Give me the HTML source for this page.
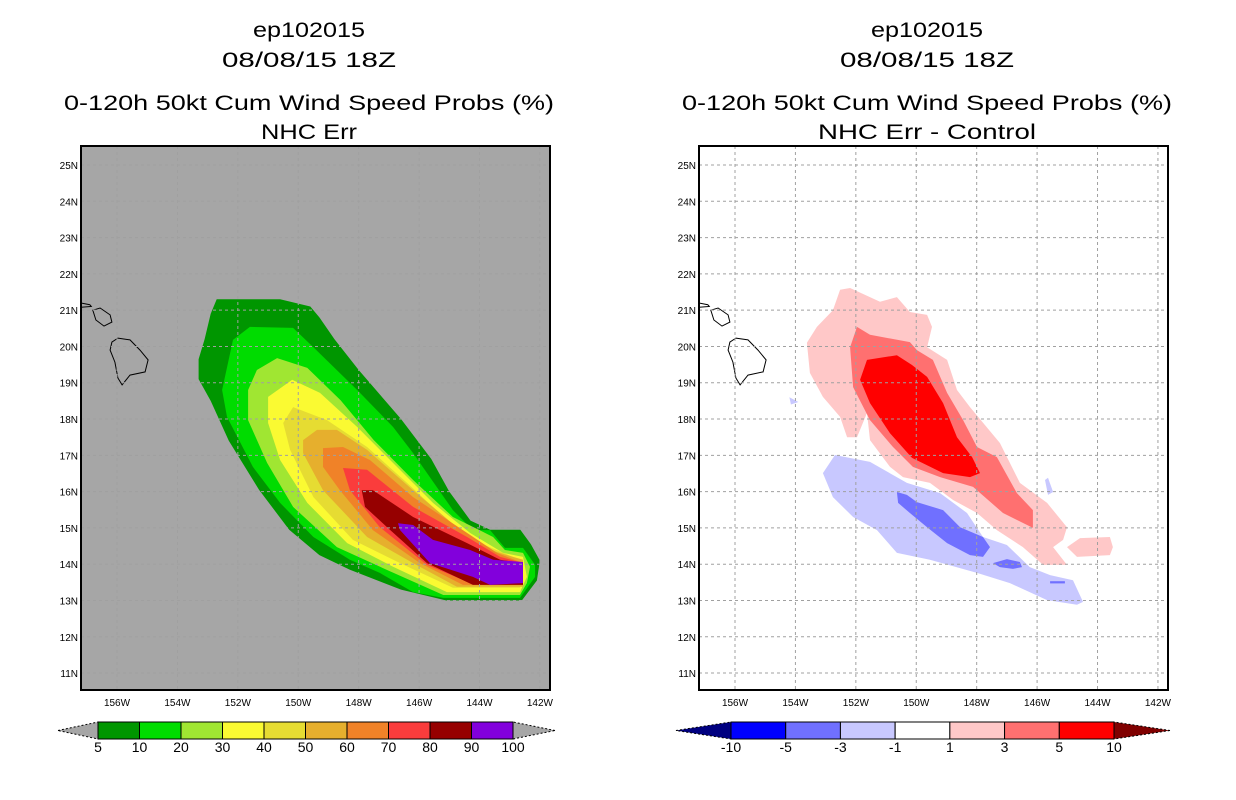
<!DOCTYPE html>
<html><head><meta charset="utf-8"><style>
html,body{margin:0;padding:0;background:#fff;}
svg{display:block;}
text{font-family:"Liberation Sans",sans-serif;}
</style></head><body>
<svg id="chart" width="1236" height="800" viewBox="0 0 1236 800" xmlns="http://www.w3.org/2000/svg">
<g id="titles">
<text x="309" y="37" font-size="21" text-anchor="middle" textLength="112" lengthAdjust="spacingAndGlyphs">ep102015</text>
<text x="309" y="67" font-size="21" text-anchor="middle" textLength="174" lengthAdjust="spacingAndGlyphs">08/08/15 18Z</text>
<text x="309" y="110" font-size="21" text-anchor="middle" textLength="490" lengthAdjust="spacingAndGlyphs">0-120h 50kt Cum Wind Speed Probs (%)</text>
<text x="309" y="139" font-size="21" text-anchor="middle" textLength="96" lengthAdjust="spacingAndGlyphs">NHC Err</text>
<text x="927" y="37" font-size="21" text-anchor="middle" textLength="112" lengthAdjust="spacingAndGlyphs">ep102015</text>
<text x="927" y="67" font-size="21" text-anchor="middle" textLength="174" lengthAdjust="spacingAndGlyphs">08/08/15 18Z</text>
<text x="927" y="110" font-size="21" text-anchor="middle" textLength="490" lengthAdjust="spacingAndGlyphs">0-120h 50kt Cum Wind Speed Probs (%)</text>
<text x="927" y="139" font-size="21" text-anchor="middle" textLength="218" lengthAdjust="spacingAndGlyphs">NHC Err - Control</text>
</g>
<defs>
<clipPath id="clipL"><rect x="81" y="146" width="469" height="544"/></clipPath>
<clipPath id="clipR"><rect x="699" y="146" width="469" height="544"/></clipPath>
</defs>
<g id="panelL"></g>
<g id="panelR"></g>
<g id="cbL"></g>
<g id="cbR"></g>
</svg>
<script>
// ---- data ----
const lonTicks = [156,154,152,150,148,146,144,142];
const latTicks = [25,24,23,22,21,20,19,18,17,16,15,14,13,12,11];
const probLevels = ["5","10","20","30","40","50","60","70","80","90","100"];
const probColors = ["#009600","#00dc00","#a0e632","#fafa32","#e6dc32","#e6af2d","#f08228","#fa3c3c","#960000","#8200dc"];
const diffLevels = ["-10","-5","-3","-1","1","3","5","10"];
const diffColors = ["#000080","#0000ff","#7070ff","#c8c8ff","#ffffff","#ffc8c8","#ff7070","#ff0000","#800000"];
// contour polygons [lonW, latN]
const prob5 = [[152.7,21.3],[151.6,21.3],[150.6,21.3],[149.6,21.1],[149.3,20.8],[148.8,20.2],[148.0,19.35],[146.6,18.0],[145.6,16.9],[145.0,16.0],[144.3,15.2],[143.65,14.95],[142.65,14.95],[142.3,14.55],[142.0,14.1],[142.1,13.55],[142.6,13.0],[145.1,13.0],[146.6,13.3],[148.3,13.85],[149.3,14.25],[150.3,14.95],[151.3,16.05],[152.3,17.4],[152.9,18.5],[153.3,19.1],[153.3,19.65],[153.1,20.2],[152.9,20.9]];
const prob10 = [[151.6,20.54],[150.17,20.51],[149.5,19.98],[148.05,18.8],[146.86,17.78],[146.2,17.06],[144.88,15.49],[144.22,14.94],[143.65,14.94],[143.16,14.45],[142.56,14.45],[142.16,13.98],[142.16,13.65],[142.66,13.07],[145.2,13.07],[146.2,13.23],[147.3,13.76],[148.29,14.12],[149.5,14.75],[150.6,15.69],[151.5,16.68],[152.36,18.06],[152.52,18.8],[152.16,20.18]];
const prob20 = [[150.7,19.68],[149.7,19.41],[148.6,18.52],[147.5,17.42],[146.2,16.32],[144.88,15.3],[144.0,14.94],[143.55,14.75],[143.16,14.39],[142.56,14.31],[142.33,13.93],[142.43,13.48],[142.66,13.15],[145.2,13.15],[147.06,13.84],[148.72,14.47],[150.17,15.58],[151.03,16.79],[151.66,17.97],[151.66,18.8],[151.37,19.35]];
const prob30 = [[150.2,19.08],[149.28,18.72],[148.05,17.78],[146.73,16.68],[145.54,15.69],[144.31,14.86],[143.22,14.31],[142.56,14.2],[142.43,13.65],[142.66,13.23],[145.08,13.23],[146.86,13.93],[148.38,14.58],[149.7,15.69],[150.6,16.87],[151.0,17.89],[151.0,18.61]];
const prob40 = [[150.17,18.33],[149.05,17.97],[147.72,17.23],[146.4,16.24],[145.08,15.22],[143.98,14.58],[142.9,14.2],[142.56,13.93],[142.66,13.35],[144.88,13.35],[146.63,14.03],[148.19,14.67],[149.5,15.85],[150.27,17.15],[150.5,17.89]];
const prob50 = [[149.38,17.7],[148.72,17.7],[147.72,17.15],[146.2,16.04],[144.75,15.02],[143.65,14.39],[142.56,14.12],[142.56,13.38],[144.75,13.38],[146.2,14.03],[147.72,14.75],[149.18,16.04],[149.84,17.06],[149.84,17.42]];
const prob60 = [[149.18,17.2],[148.52,17.23],[147.63,16.87],[146.2,15.85],[144.55,14.94],[143.42,14.31],[142.56,14.03],[142.56,13.43],[144.55,13.43],[145.97,14.03],[147.53,14.94],[148.62,16.04],[149.18,16.68]];
const prob70 = [[148.52,16.65],[147.72,16.6],[146.2,15.58],[144.41,14.75],[143.32,14.2],[142.56,14.03],[142.56,13.48],[144.31,13.48],[145.74,13.98],[147.3,15.02],[148.29,16.04]];
const prob80 = [[147.9,16.04],[147.53,16.04],[146.2,15.3],[144.41,14.58],[143.32,14.12],[142.56,14.03],[142.56,13.43],[144.22,13.43],[145.74,14.03],[147.06,15.02],[147.79,15.58]];
const prob90 = [[146.7,15.13],[146.2,15.08],[145.54,14.67],[144.31,14.39],[143.55,14.12],[142.56,14.06],[142.56,13.48],[143.65,13.43],[144.22,13.65],[145.64,14.03],[146.63,14.94]];
const diffPos1 = [[152.52,21.56],[152.19,21.61],[151.2,21.23],[150.64,21.36],[150.21,20.95],[149.64,20.87],[149.48,20.54],[149.64,19.98],[148.98,19.63],[148.65,18.8],[148.22,18.33],[147.23,17.34],[146.57,16.24],[145.67,15.69],[145.01,15.02],[145.14,14.67],[145.47,14.47],[145.01,13.98],[145.8,13.98],[146.47,14.47],[147.33,14.94],[147.99,15.41],[148.78,15.77],[149.55,16.24],[150.44,16.4],[150.87,16.68],[151.53,17.42],[151.63,18.17],[151.96,17.5],[152.29,17.5],[152.52,18.06],[153.09,18.61],[153.52,19.27],[153.62,20.1],[153.29,20.54],[152.76,21.0]];
const diffPos1b = [[145.01,14.47],[144.58,14.72],[143.59,14.75],[143.49,14.47],[143.59,14.25],[144.68,14.2]];
const diffPos3 = [[151.96,20.54],[151.53,20.32],[150.21,20.12],[149.98,19.9],[149.45,19.63],[148.98,18.72],[148.45,17.97],[147.99,17.23],[147.33,16.95],[146.67,15.96],[146.14,15.49],[146.14,15.0],[147.13,15.41],[148.12,16.13],[149.21,16.4],[150.11,16.68],[150.77,17.23],[151.53,17.97],[152.09,18.88],[152.19,19.98]];
const diffPos5 = [[151.63,19.63],[150.64,19.76],[150.14,19.49],[149.64,19.16],[149.11,18.44],[148.65,17.5],[148.15,16.95],[147.89,16.51],[148.22,16.4],[149.11,16.51],[150.14,16.93],[150.87,17.61],[151.53,18.44],[151.86,19.08]];
const diffNeg1 = [[152.69,17.01],[151.53,16.82],[150.31,16.24],[149.21,15.96],[148.32,15.41],[147.79,14.75],[147.0,14.53],[146.24,13.92],[145.57,13.7],[144.81,13.56],[144.48,12.96],[144.68,12.88],[145.67,13.01],[146.9,13.48],[147.99,13.76],[149.55,14.12],[150.64,14.31],[151.3,14.94],[152.09,15.3],[152.76,15.85],[153.09,16.51]];
const diffNeg1b = [[145.74,16.32],[145.64,16.38],[145.47,15.99],[145.64,15.91]];
const diffNeg1c = [[154.2,18.6],[153.9,18.47],[154.15,18.4]];
const diffNeg3 = [[150.64,15.99],[150.31,15.91],[149.98,15.71],[149.11,15.49],[148.55,15.02],[147.79,14.75],[147.56,14.47],[147.79,14.2],[148.22,14.25],[148.98,14.58],[149.64,15.02],[150.21,15.41],[150.6,15.69]];
const diffNeg3b = [[147.46,14.03],[147.0,14.14],[146.57,14.06],[146.5,13.92],[146.8,13.87],[147.23,13.92]];
const diffNeg3c = [[145.57,13.53],[145.08,13.53],[145.08,13.47],[145.57,13.47]];
const bigIsland = [[155.97,20.23],[155.57,20.18],[155.24,19.9],[154.97,19.63],[155.07,19.3],[155.57,19.21],[155.83,18.94],[155.97,19.13],[156.07,19.57],[156.23,19.9],[156.17,20.12]];
const maui = [[156.8,21.0],[156.56,21.06],[156.23,20.87],[156.17,20.67],[156.43,20.56],[156.7,20.73]];
const molokai = [[157.2,21.2],[156.9,21.15],[156.85,21.1],[157.2,21.08]];

const NS="http://www.w3.org/2000/svg";
function mk(tag,attrs,parent){const e=document.createElementNS(NS,tag);for(const k in attrs)e.setAttribute(k,attrs[k]);parent.appendChild(e);return e;}
function xScale(x0){return lon=>x0+36+(156-lon)*30.21;}
const yScale = lat=>165+(25-lat)*36.29;
function pts(poly,xs){return poly.map(p=>xs(p[0]).toFixed(1)+","+yScale(p[1]).toFixed(1)).join(" ");}

function drawPanel(g,x0,bg,clipId,layers){
  const xs=xScale(x0);
  const bgR=mk('rect',{x:x0,y:146,width:469,height:544,fill:bg},g);
  
  
  const cg=mk('g',{'clip-path':'url(#'+clipId+')'},g);
  
  
  layers.forEach(l=>{
    const p=mk('polygon',{points:pts(l.poly,xs),fill:l.color},cg);
    
    
  });
  const gg=mk('g',{stroke:'#a0a0a0','stroke-width':1,'stroke-dasharray':'3,3'},g);
  
  
  lonTicks.forEach(l=>{mk('line',{x1:xs(l),x2:xs(l),y1:146,y2:690},gg);});
  latTicks.forEach(l=>{mk('line',{x1:x0,x2:x0+469,y1:yScale(l),y2:yScale(l)},gg);});
  [bigIsland,maui,molokai].forEach(c=>{
    const p=mk('polygon',{points:pts(c,xs),fill:'none',stroke:'#000','stroke-width':1},cg);
    
    
  });
  const fr=mk('rect',{x:x0,y:146,width:469,height:544,fill:'none',stroke:'#000','stroke-width':2},g);
  
  
  lonTicks.forEach(l=>{
    const t=mk('text',{x:xs(l),y:706,'font-size':10,'text-anchor':'middle'},g);
    t.textContent=l+'W';
    
    
  });
  latTicks.forEach(l=>{
    const t=mk('text',{x:x0-3,y:yScale(l)+4,'font-size':10,'text-anchor':'end'},g);
    t.textContent=l+'N';
    
    
  });
}
drawPanel(document.getElementById('panelL'),81,'#a6a6a6','clipL',[
 {poly:prob5,color:probColors[0],name:'prob-5-10'},
 {poly:prob10,color:probColors[1],name:'prob-10-20'},
 {poly:prob20,color:probColors[2],name:'prob-20-30'},
 {poly:prob30,color:probColors[3],name:'prob-30-40'},
 {poly:prob40,color:probColors[4],name:'prob-40-50'},
 {poly:prob50,color:probColors[5],name:'prob-50-60'},
 {poly:prob60,color:probColors[6],name:'prob-60-70'},
 {poly:prob70,color:probColors[7],name:'prob-70-80'},
 {poly:prob80,color:probColors[8],name:'prob-80-90'},
 {poly:prob90,color:probColors[9],name:'prob-90-100'}]);
drawPanel(document.getElementById('panelR'),699,'#ffffff','clipR',[
 {poly:diffPos1,color:diffColors[5],name:'diff-1-3'},
 {poly:diffPos1b,color:diffColors[5],name:'diff-1-3-blob'},
 {poly:diffPos3,color:diffColors[6],name:'diff-3-5'},
 {poly:diffPos5,color:diffColors[7],name:'diff-5-10'},
 {poly:diffNeg1,color:diffColors[3],name:'diff-neg1-neg3'},
 {poly:diffNeg1b,color:diffColors[3],name:'diff-neg1-blob'},
 {poly:diffNeg1c,color:diffColors[3],name:'diff-neg1-blob-west'},
 {poly:diffNeg3,color:diffColors[2],name:'diff-neg3-neg5'},
 {poly:diffNeg3b,color:diffColors[2],name:'diff-neg3-blob'},
 {poly:diffNeg3c,color:diffColors[2],name:'diff-neg3-sliver'}]);

function colorbar(g,x0,x1,triL,triR,colors,labels,leftTri,rightTri){
  const y0=722,h=17,n=colors.length;
  const w=(x1-x0)/n;
  const a=mk('polygon',{points:`${triL},${y0+h/2} ${x0},${y0} ${x0},${y0+h}`,fill:leftTri,stroke:'#000','stroke-width':1,'stroke-dasharray':'2,2'},g);
  
  
  const b=mk('polygon',{points:`${triR},${y0+h/2} ${x1},${y0} ${x1},${y0+h}`,fill:rightTri,stroke:'#000','stroke-width':1,'stroke-dasharray':'2,2'},g);
  
  
  colors.forEach((c,i)=>{
    const r=mk('rect',{x:x0+i*w,y:y0,width:w,height:h,fill:c,stroke:'#000','stroke-width':1},g);
    
    
  });
  labels.forEach((l,i)=>{
    const t=mk('text',{x:x0+i*w,y:752,'font-size':14,'text-anchor':'middle'},g);
    t.textContent=l;
    
    
  });
}
colorbar(document.getElementById('cbL'),98,513,58,555,probColors,probLevels,'#a6a6a6','#a6a6a6');
colorbar(document.getElementById('cbR'),731,1114,676,1170,diffColors.slice(1,8),diffLevels,diffColors[0],diffColors[8]);
</script>
</body></html>
